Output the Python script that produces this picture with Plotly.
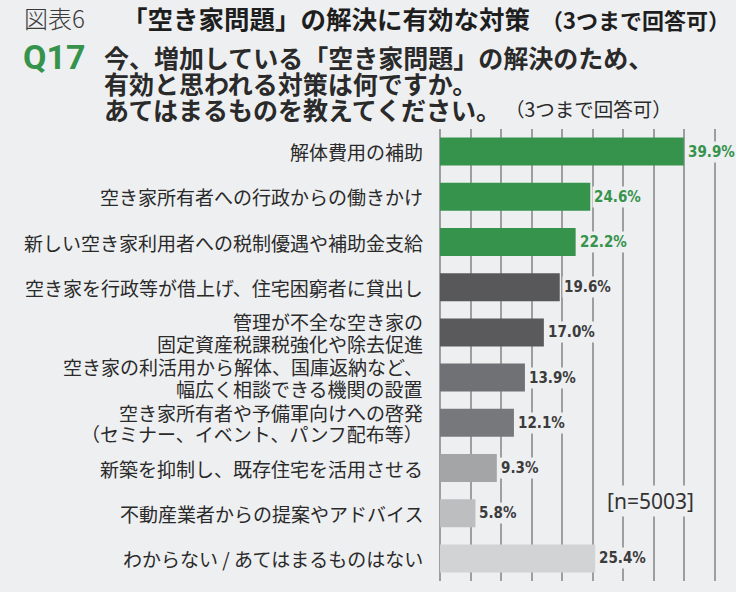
import plotly.graph_objects as go

categories = [
    "解体費用の補助",
    "空き家所有者への行政からの働きかけ",
    "新しい空き家利用者への税制優遇や補助金支給",
    "空き家を行政等が借上げ、住宅困窮者に貸出し",
    "管理が不全な空き家の|固定資産税課税強化や除去促進",
    "空き家の利活用から解体、国庫返納など、|幅広く相談できる機関の設置",
    "空き家所有者や予備軍向けへの啓発|（セミナー、イベント、パンフ配布等）",
    "新築を抑制し、既存住宅を活用させる",
    "不動産業者からの提案やアドバイス",
    "わからない / あてはまるものはない",
]
values = [39.9, 24.6, 22.2, 19.6, 17.0, 13.9, 12.1, 9.3, 5.8, 25.4]
bar_colors = ["#36934c", "#36934c", "#36934c", "#58585a", "#5a5a5c",
              "#707174", "#77787b", "#a4a5a7", "#bdbec0", "#d2d3d5"]
label_colors = ["#36934c"] * 3 + ["#3c3c3c"] * 7
value_labels = [f"{v:.1f}%" for v in values]
n_label = "[n=5003]"
title_prefix = "図表6"
title_main = "「空き家問題」の解決に有効な対策"
title_note = "（3つまで回答可）"
q_no = "Q17"
question_lines = [
    "今、増加している「空き家問題」の解決のため、",
    "有効と思われる対策は何ですか。",
    "あてはまるものを教えてください。",
]
question_note = "（3つまで回答可）"

BG = "#eeeff1"
JP = "Noto Sans CJK JP"
W, H = 736, 592
T, B = 129, 11


def py(p):
    return (H - B - p) / (H - T - B)


def px(p, l=440, r=18):
    return (p - l) / (W - l - r)


cat_keys = [c.replace("|", "<br>") for c in categories]

fig = go.Figure()
fig.add_trace(go.Bar(
    x=values, y=cat_keys, orientation="h",
    marker=dict(color=bar_colors, line=dict(width=0)),
    width=0.62, hoverinfo="skip",
))

ann = []
# category labels
for key, cat in zip(cat_keys, categories):
    lines = cat.split("|")
    nl = len(lines)
    for i, ln in enumerate(lines):
        ann.append(dict(
            x=0, xref="paper", y=key, yref="y", text=ln, showarrow=False,
            xanchor="right", yanchor="middle", xshift=-15,
            yshift=(nl - 1) / 2 * 21.5 - i * 21.5,
            font=dict(family=JP, size=19, color="#2a2a2a"),
        ))
# value labels
for key, v, lab, col in zip(cat_keys, values, value_labels, label_colors):
    ann.append(dict(
        x=v, y=key, text=f"<b>{lab}</b>", showarrow=False,
        xanchor="left", yanchor="middle", xshift=2,
        bgcolor=BG, borderpad=1,
        font=dict(family="DejaVu Sans Condensed, Roboto", size=15, color=col),
    ))
# n label
ann.append(dict(
    x=px(650), xref="paper", y=py(501), yref="paper", text=n_label,
    showarrow=False, xanchor="center", yanchor="middle", bgcolor=BG,
    font=dict(family="Noto Sans", size=21, color="#333333"),
))
# title
ann.append(dict(
    x=px(22), xref="paper", y=py(18), yref="paper", text=title_prefix,
    showarrow=False, xanchor="left", yanchor="middle",
    font=dict(family=JP, size=24, color="#3a3a3a", weight=300),
))
ann.append(dict(
    x=px(120), xref="paper", y=py(18), yref="paper", text=f"<b>{title_main}</b>",
    showarrow=False, xanchor="left", yanchor="middle",
    font=dict(family=JP, size=25.5, color="#1e1e1e"),
))
ann.append(dict(
    x=px(539), xref="paper", y=py(19), yref="paper", text=f"<b>{title_note}</b>",
    showarrow=False, xanchor="left", yanchor="middle",
    font=dict(family=JP, size=22, color="#1e1e1e"),
))
# Q17
ann.append(dict(
    x=px(21), xref="paper", y=py(57), yref="paper", text=f"<b>{q_no}</b>",
    showarrow=False, xanchor="left", yanchor="middle",
    font=dict(family="Roboto", size=34, color="#36934c"),
))
for i, ln in enumerate(question_lines):
    ann.append(dict(
        x=px(102), xref="paper", y=py(57 + i * 26), yref="paper",
        text=f"<b>{ln}</b>", showarrow=False, xanchor="left", yanchor="middle",
        font=dict(family=JP, size=25, color="#2a2a2a"),
    ))
ann.append(dict(
    x=px(503), xref="paper", y=py(109), yref="paper", text=question_note,
    showarrow=False, xanchor="left", yanchor="middle",
    font=dict(family=JP, size=19.5, color="#2a2a2a"),
))

fig.update_layout(
    width=W, height=H,
    margin=dict(l=440, r=18, t=T, b=B, pad=0),
    paper_bgcolor=BG, plot_bgcolor=BG,
    showlegend=False,
    annotations=ann,
    xaxis=dict(range=[0, 45.5], dtick=5, tick0=0, showticklabels=False,
               showgrid=True, gridcolor="#9d9ea0", gridwidth=2,
               zeroline=True, zerolinecolor="#9d9ea0", zerolinewidth=2,
               showline=False, fixedrange=True),
    yaxis=dict(autorange="reversed", showticklabels=False, showgrid=False,
               zeroline=False, showline=False, fixedrange=True,
               type="category"),
    bargap=0.38,
)

fig.write_html(
    "out.html",
    config={"displayModeBar": False},
    post_script="document.body.style.margin='0';document.body.style.padding='0';",
)
